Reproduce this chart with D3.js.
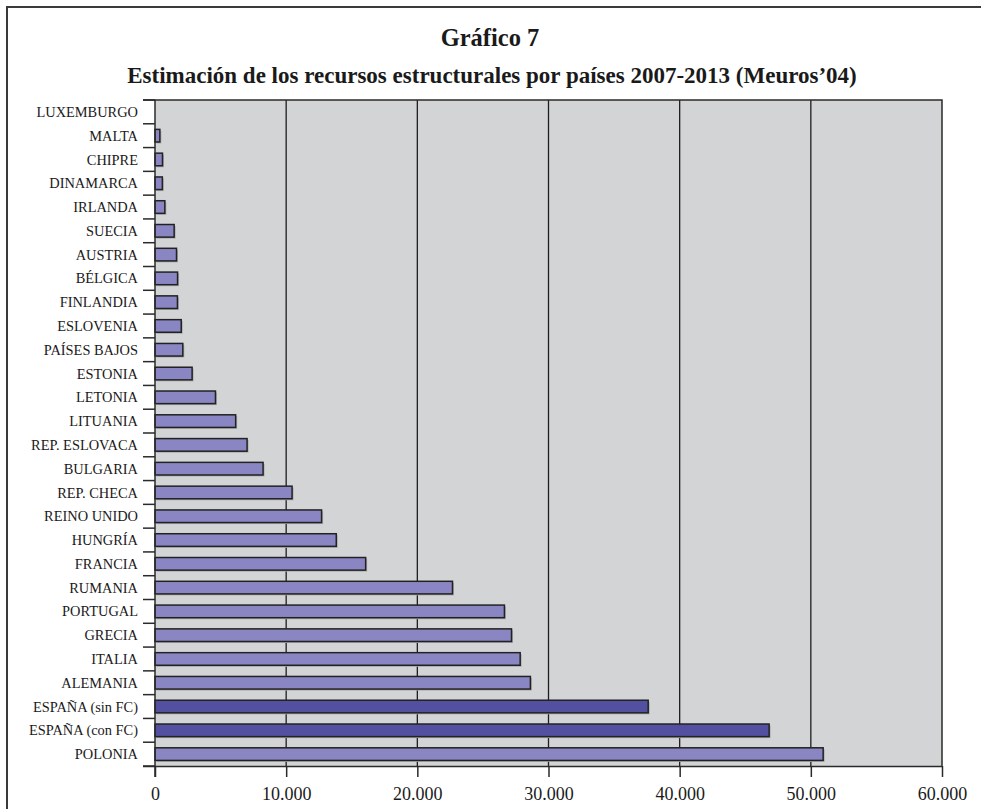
<!DOCTYPE html>
<html>
<head>
<meta charset="utf-8">
<script src="https://cdn.jsdelivr.net/npm/d3@7"></script>
<style>
  body { margin: 0; background: #fff; }
  svg { display: block; font-family: "Liberation Serif", "DejaVu Serif", serif; }
</style>
</head>
<body>
<div id="chart"></div>
<script>
// Gráfico 7 - recursos estructurales por países

const countries = ['LUXEMBURGO','MALTA','CHIPRE','DINAMARCA','IRLANDA','SUECIA','AUSTRIA','BÉLGICA',
  'FINLANDIA','ESLOVENIA','PAÍSES BAJOS','ESTONIA','LETONIA','LITUANIA','REP. ESLOVACA','BULGARIA',
  'REP. CHECA','REINO UNIDO','HUNGRÍA','FRANCIA','RUMANIA','PORTUGAL','GRECIA','ITALIA','ALEMANIA',
  'ESPAÑA (sin FC)','ESPAÑA (con FC)','POLONIA'];
const values = [0, 370, 570, 560, 750, 1460, 1640, 1720,
  1710, 2000, 2120, 2830, 4610, 6150, 7020, 8240,
  10450, 12700, 13820, 16060, 22680, 26640, 27180, 27840, 28620,
  37600, 46820, 50940];
const highlighted = ['ESPAÑA (sin FC)', 'ESPAÑA (con FC)'];
const xTicks = [0, 10000, 20000, 30000, 40000, 50000, 60000];

const W = 981, H = 809;
const margin = { top: 100, right: 39, bottom: 43, left: 155 };
const width = W - margin.left - margin.right;
const height = H - margin.top - margin.bottom;

const data = countries.map((c, i) => ({ name: c, value: values[i] }));

const svg = d3.select('#chart').append('svg')
  .attr('width', W)
  .attr('height', H);

// outer frame (left + top)
svg.append('path')
  .attr('d', `M7,${H} L7,7 L${W},7`)
  .attr('fill', 'none')
  .attr('stroke', '#3a3a3a')
  .attr('stroke-width', 2);

svg.append('text')
  .attr('x', 490).attr('y', 46)
  .attr('text-anchor', 'middle')
  .attr('font-weight', 'bold')
  .attr('font-size', '24.5px')
  .attr('fill', '#1a1a1a')
  .text('Gráfico 7');

svg.append('text')
  .attr('x', 492).attr('y', 83)
  .attr('text-anchor', 'middle')
  .attr('font-weight', 'bold')
  .attr('font-size', '23px')
  .attr('fill', '#1a1a1a')
  .text('Estimación de los recursos estructurales por países 2007-2013 (Meuros’04)');

const g = svg.append('g')
  .attr('transform', `translate(${margin.left},${margin.top})`);

const x = d3.scaleLinear().domain([0, 60000]).range([0, width]);
const y = d3.scaleBand().domain(countries).range([0, height]).paddingInner(0.47).paddingOuter(0.235);

g.append('rect')
  .attr('width', width)
  .attr('height', height)
  .attr('fill', '#d3d4d6');

// vertical gridlines
g.selectAll('.grid')
  .data(xTicks.slice(1, -1))
  .enter().append('line')
  .attr('class', 'grid')
  .attr('x1', d => x(d)).attr('x2', d => x(d))
  .attr('y1', 0).attr('y2', height)
  .attr('stroke', '#1e1e1e')
  .attr('stroke-width', 1.3);

// plot frame top + right
g.append('path')
  .attr('d', `M-12,0 L${width},0 L${width},${height}`)
  .attr('fill', 'none')
  .attr('stroke', '#2a2a2a')
  .attr('stroke-width', 1.5);

// bar shadows
g.selectAll('.shadow')
  .data(data.filter(d => d.value > 0))
  .enter().append('rect')
  .attr('class', 'shadow')
  .attr('x', x(0) + 1.5)
  .attr('y', d => y(d.name) + 1.5)
  .attr('width', d => x(d.value))
  .attr('height', y.bandwidth())
  .attr('fill', '#a9aaad');

g.selectAll('.bar')
  .data(data.filter(d => d.value > 0))
  .enter().append('rect')
  .attr('class', 'bar')
  .attr('x', x(0))
  .attr('y', d => y(d.name))
  .attr('width', d => x(d.value))
  .attr('height', y.bandwidth())
  .attr('fill', d => highlighted.includes(d.name) ? '#5350a2' : '#8a86c3')
  .attr('stroke', '#222')
  .attr('stroke-width', 1.5);

// y axis: ticks between categories
const bounds = d3.range(countries.length + 1).map(i => i * height / countries.length);
g.selectAll('.ytick')
  .data(bounds)
  .enter().append('line')
  .attr('class', 'ytick')
  .attr('x1', -12).attr('x2', 0)
  .attr('y1', d => d).attr('y2', d => d)
  .attr('stroke', '#2a2a2a')
  .attr('stroke-width', 1.5);

g.append('line')
  .attr('x1', 0).attr('x2', 0)
  .attr('y1', 0).attr('y2', height + 11)
  .attr('stroke', '#2a2a2a')
  .attr('stroke-width', 1.5);

g.selectAll('.ylabel')
  .data(countries)
  .enter().append('text')
  .attr('class', 'ylabel')
  .attr('x', -17)
  .attr('y', d => y(d) + y.bandwidth() / 2)
  .attr('dy', '0.35em')
  .attr('text-anchor', 'end')
  .attr('font-size', '14.4px')
  .attr('fill', '#1a1a1a')
  .text(d => d);

// x axis
const xAxis = g.append('g')
  .attr('transform', `translate(0,${height})`)
  .call(d3.axisBottom(x).tickValues(xTicks).tickSize(11).tickPadding(10)
    .tickFormat(d => d3.format(',')(d).replace(/,/g, '.')));

xAxis.select('.domain')
  .attr('d', `M-12,0.5H${width}`)
  .attr('stroke', '#2a2a2a')
  .attr('stroke-width', 1.5);
xAxis.selectAll('.tick line')
  .attr('stroke', '#2a2a2a')
  .attr('stroke-width', 1.5);
xAxis.selectAll('.tick text')
  .attr('font-family', '"Liberation Serif", serif')
  .attr('font-size', '18px')
  .attr('fill', '#1a1a1a');
</script>
</body>
</html>
